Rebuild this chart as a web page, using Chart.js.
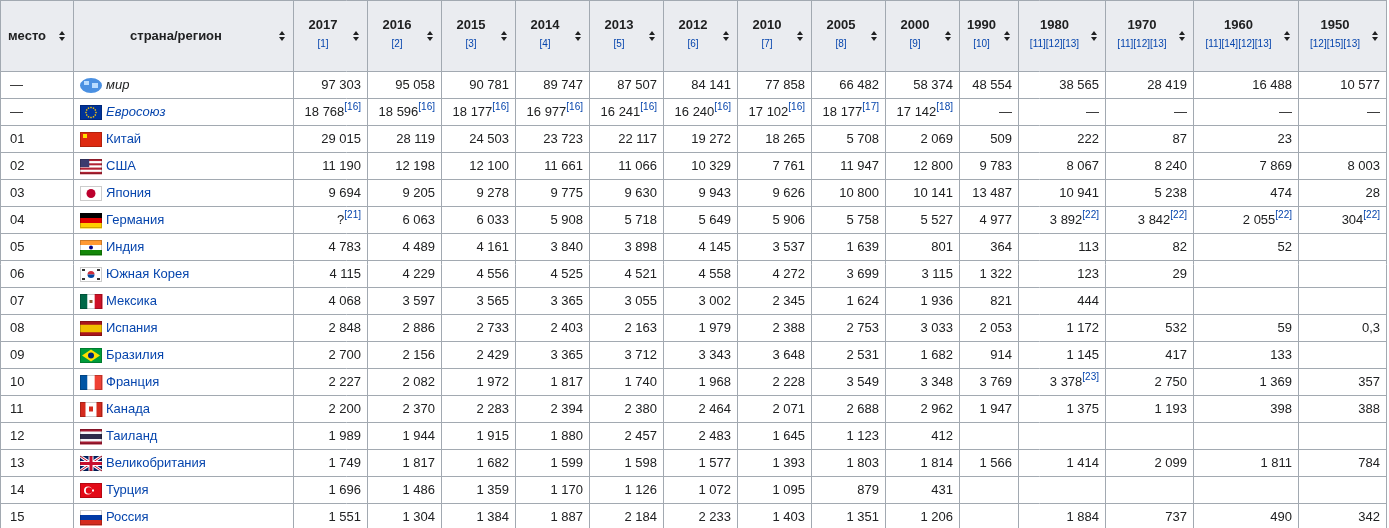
<!DOCTYPE html>
<html><head><meta charset="utf-8">
<script src="https://cdn.jsdelivr.net/npm/chart.js@4"></script>
<style>body{margin:0;background:#fff}</style>
</head><body>
<canvas id="c" width="1389" height="528"></canvas>
<script>
// column headers
const years = ['2017','2016','2015','2014','2013','2012','2010','2005','2000','1990','1980','1970','1960','1950'];
const refs = ['[1]','[2]','[3]','[4]','[5]','[6]','[7]','[8]','[9]','[10]','[11][12][13]','[11][12][13]','[11][14][12][13]','[12][15][13]'];
const places = ['—','—','01','02','03','04','05','06','07','08','09','10','11','12','13','14','15'];
const countries = ['мир','Евросоюз','Китай','США','Япония','Германия','Индия','Южная Корея','Мексика','Испания','Бразилия','Франция','Канада','Таиланд','Великобритания','Турция','Россия'];
const flags = ['world','eu','cn','us','jp','de','in','kr','mx','es','br','fr','ca','th','gb','tr','ru'];

// values per row, "[n]" = footnote
const world = ['97 303','95 058','90 781','89 747','87 507','84 141','77 858','66 482','58 374','48 554','38 565','28 419','16 488','10 577'];
const eu = ['18 768[16]','18 596[16]','18 177[16]','16 977[16]','16 241[16]','16 240[16]','17 102[16]','18 177[17]','17 142[18]','—','—','—','—','—'];
const china = ['29 015','28 119','24 503','23 723','22 117','19 272','18 265','5 708','2 069','509','222','87','23',''];
const usa = ['11 190','12 198','12 100','11 661','11 066','10 329','7 761','11 947','12 800','9 783','8 067','8 240','7 869','8 003'];
const japan = ['9 694','9 205','9 278','9 775','9 630','9 943','9 626','10 800','10 141','13 487','10 941','5 238','474','28'];
const germany = ['?[21]','6 063','6 033','5 908','5 718','5 649','5 906','5 758','5 527','4 977','3 892[22]','3 842[22]','2 055[22]','304[22]'];
const india = ['4 783','4 489','4 161','3 840','3 898','4 145','3 537','1 639','801','364','113','82','52',''];
const korea = ['4 115','4 229','4 556','4 525','4 521','4 558','4 272','3 699','3 115','1 322','123','29','',''];
const mexico = ['4 068','3 597','3 565','3 365','3 055','3 002','2 345','1 624','1 936','821','444','','',''];
const spain = ['2 848','2 886','2 733','2 403','2 163','1 979','2 388','2 753','3 033','2 053','1 172','532','59','0,3'];
const brazil = ['2 700','2 156','2 429','3 365','3 712','3 343','3 648','2 531','1 682','914','1 145','417','133',''];
const france = ['2 227','2 082','1 972','1 817','1 740','1 968','2 228','3 549','3 348','3 769','3 378[23]','2 750','1 369','357'];
const canada = ['2 200','2 370','2 283','2 394','2 380','2 464','2 071','2 688','2 962','1 947','1 375','1 193','398','388'];
const thailand = ['1 989','1 944','1 915','1 880','2 457','2 483','1 645','1 123','412','','','','',''];
const uk = ['1 749','1 817','1 682','1 599','1 598','1 577','1 393','1 803','1 814','1 566','1 414','2 099','1 811','784'];
const turkey = ['1 696','1 486','1 359','1 170','1 126','1 072','1 095','879','431','','','','',''];
const russia = ['1 551','1 304','1 384','1 887','2 184','2 233','1 403','1 351','1 206','','1 884','737','490','342'];
const rows = [world,eu,china,usa,japan,germany,india,korea,mexico,spain,brazil,france,canada,thailand,uk,turkey,russia];

// layout (table units, mapped through the chart's scales)
const colEdges = [0,73,293,367,441,515,589,663,737,811,885,959,1018,1105,1193,1298,1386];
const headH = 71, rowH = 27;

const FONT = '"Liberation Sans", Arial, sans-serif';
const BLUE = '#0645ad', TXT = '#202122', BORDER = '#a2a9b1';

function drawFlag(ctx, code, x, y, w, h) {
  const stripesH = (cols) => cols.forEach((c,i)=>{ctx.fillStyle=c;ctx.fillRect(x,y+i*h/cols.length,w,h/cols.length+0.5);});
  const stripesV = (cols) => cols.forEach((c,i)=>{ctx.fillStyle=c;ctx.fillRect(x+i*w/cols.length,y,w/cols.length+0.5,h);});
  ctx.save();
  switch (code) {
    case 'world':
      ctx.fillStyle='#4a90e2';ctx.beginPath();ctx.ellipse(x+w/2,y+h/2,w/2,h/2,0,0,Math.PI*2);ctx.fill();
      ctx.fillStyle='#b9dcff';ctx.fillRect(x+4,y+3,5,4);ctx.fillRect(x+12,y+5,6,5);ctx.restore();return;
    case 'eu': ctx.fillStyle='#039';ctx.fillRect(x,y,w,h);ctx.fillStyle='#fc0';
      for(let i=0;i<12;i++){const a=i*Math.PI/6;ctx.fillRect(x+w/2+Math.cos(a)*5-0.7,y+h/2+Math.sin(a)*5-0.7,1.4,1.4);} break;
    case 'cn': ctx.fillStyle='#de2910';ctx.fillRect(x,y,w,h);ctx.fillStyle='#ffde00';ctx.fillRect(x+3,y+2,4,4);break;
    case 'us': for(let i=0;i<7;i++){ctx.fillStyle=i%2?'#fff':'#b22234';ctx.fillRect(x,y+i*h/7,w,h/7+0.3);} ctx.fillStyle='#3c3b6e';ctx.fillRect(x,y,w*0.42,h*0.54);break;
    case 'jp': ctx.fillStyle='#fff';ctx.fillRect(x,y,w,h);ctx.fillStyle='#bc002d';ctx.beginPath();ctx.arc(x+w/2,y+h/2,h*0.3,0,7);ctx.fill();break;
    case 'de': stripesH(['#000','#dd0000','#ffce00']);break;
    case 'in': stripesH(['#ff9933','#fff','#138808']);ctx.fillStyle='#008';ctx.beginPath();ctx.arc(x+w/2,y+h/2,2,0,7);ctx.fill();break;
    case 'kr': ctx.fillStyle='#fff';ctx.fillRect(x,y,w,h);ctx.fillStyle='#cd2e3a';ctx.beginPath();ctx.arc(x+w/2,y+h/2,3.5,Math.PI,0);ctx.fill();
      ctx.fillStyle='#0047a0';ctx.beginPath();ctx.arc(x+w/2,y+h/2,3.5,0,Math.PI);ctx.fill();ctx.fillStyle='#333';
      [[2,2],[w-5,2],[2,h-4],[w-5,h-4]].forEach(p=>ctx.fillRect(x+p[0],y+p[1],3,2));break;
    case 'mx': stripesV(['#006847','#fff','#ce1126']);ctx.fillStyle='#8b5a2b';ctx.fillRect(x+w/2-1.5,y+h/2-1.5,3,3);break;
    case 'es': ctx.fillStyle='#aa151b';ctx.fillRect(x,y,w,h);ctx.fillStyle='#f1bf00';ctx.fillRect(x,y+h/4,w,h/2);break;
    case 'br': ctx.fillStyle='#009c3b';ctx.fillRect(x,y,w,h);ctx.fillStyle='#ffdf00';ctx.beginPath();ctx.moveTo(x+2,y+h/2);ctx.lineTo(x+w/2,y+1.5);ctx.lineTo(x+w-2,y+h/2);ctx.lineTo(x+w/2,y+h-1.5);ctx.fill();
      ctx.fillStyle='#002776';ctx.beginPath();ctx.arc(x+w/2,y+h/2,3,0,7);ctx.fill();break;
    case 'fr': stripesV(['#0055a4','#fff','#ef4135']);break;
    case 'ca': stripesV(['#d52b1e','#fff','#fff','#d52b1e']);ctx.fillStyle='#d52b1e';ctx.fillRect(x+w/2-2,y+h/2-3,4,5);break;
    case 'th': stripesH(['#a51931','#f4f5f8','#2d2a4a','#2d2a4a','#f4f5f8','#a51931']);break;
    case 'gb': ctx.fillStyle='#012169';ctx.fillRect(x,y,w,h);ctx.strokeStyle='#fff';ctx.lineWidth=3;ctx.beginPath();ctx.moveTo(x,y);ctx.lineTo(x+w,y+h);ctx.moveTo(x+w,y);ctx.lineTo(x,y+h);ctx.stroke();
      ctx.strokeStyle='#c8102e';ctx.lineWidth=1;ctx.stroke();ctx.fillStyle='#fff';ctx.fillRect(x,y+h/2-2.5,w,5);ctx.fillRect(x+w/2-2.5,y,5,h);
      ctx.fillStyle='#c8102e';ctx.fillRect(x,y+h/2-1.5,w,3);ctx.fillRect(x+w/2-1.5,y,3,h);break;
    case 'tr': ctx.fillStyle='#e30a17';ctx.fillRect(x,y,w,h);ctx.fillStyle='#fff';ctx.beginPath();ctx.arc(x+8,y+h/2,4,0,7);ctx.fill();
      ctx.fillStyle='#e30a17';ctx.beginPath();ctx.arc(x+9,y+h/2,3.2,0,7);ctx.fill();ctx.fillStyle='#fff';ctx.fillRect(x+12,y+h/2-1,2,2);break;
    case 'ru': stripesH(['#fff','#0039a6','#d52b1e']);break;
  }
  ctx.strokeStyle='rgba(0,0,0,0.2)';ctx.lineWidth=1;ctx.strokeRect(x+0.5,y+0.5,w-1,h-1);
  ctx.restore();
}

function sortArrows(ctx, cx, cy) {
  ctx.fillStyle = TXT;
  ctx.beginPath();ctx.moveTo(cx-3,cy-1);ctx.lineTo(cx+3,cy-1);ctx.lineTo(cx,cy-5);ctx.fill();
  ctx.beginPath();ctx.moveTo(cx-3,cy+1);ctx.lineTo(cx+3,cy+1);ctx.lineTo(cx,cy+5);ctx.fill();
}

// text with trailing "[n]" rendered as superscript, right aligned at xr
function valueText(ctx, s, xr, y) {
  const m = s.match(/^(.*?)(\[\d+\])?$/);
  const main = m[1], sup = m[2] || '';
  ctx.textAlign = 'right'; ctx.textBaseline = 'middle';
  let x = xr;
  if (sup) {
    ctx.font = '10px ' + FONT; ctx.fillStyle = BLUE;
    ctx.fillText(sup, x, y - 5); x -= ctx.measureText(sup).width;
  }
  ctx.font = '13px ' + FONT; ctx.fillStyle = TXT;
  ctx.fillText(main, x, y);
}

const tablePlugin = {
  id: 'table',
  afterDraw(chart) {
    const ctx = chart.ctx, sx = chart.scales.x, sy = chart.scales.y;
    const X = v => sx.getPixelForValue(v), Y = v => sy.getPixelForValue(v);
    const rowTop = i => headH + i * rowH;
    const bottom = rowTop(rows.length);
    ctx.save();
    // header background
    ctx.fillStyle = '#eaecf0';
    ctx.fillRect(X(colEdges[0]), Y(0), X(colEdges[colEdges.length-1]) - X(colEdges[0]), Y(headH) - Y(0));
    // grid
    ctx.strokeStyle = BORDER; ctx.lineWidth = 1;
    ctx.beginPath();
    colEdges.forEach(c => { const px = Math.round(X(c)) + 0.5; ctx.moveTo(px, Y(0)); ctx.lineTo(px, Y(bottom)); });
    for (let i = 0; i <= rows.length; i++) { const py = Math.round(Y(rowTop(i))) + 0.5; ctx.moveTo(X(0), py); ctx.lineTo(X(colEdges[colEdges.length-1]), py); }
    ctx.moveTo(X(0), 0.5); ctx.lineTo(X(colEdges[colEdges.length-1]), 0.5);
    ctx.stroke();
    // header text
    ctx.fillStyle = TXT; ctx.textBaseline = 'middle';
    ctx.font = 'bold 13px ' + FONT;
    ctx.textAlign = 'left'; ctx.fillText('место', X(8), Y(36));
    sortArrows(ctx, X(colEdges[1] - 11), Y(36));
    ctx.fillStyle = TXT; ctx.textAlign = 'center';
    ctx.fillText('страна/регион', X((colEdges[1] + colEdges[2] - 14) / 2), Y(36));
    sortArrows(ctx, X(colEdges[2] - 11), Y(36));
    years.forEach((yr, j) => {
      const l = colEdges[j+2], r = colEdges[j+3], cx = (l + r - 14) / 2;
      ctx.fillStyle = TXT; ctx.font = 'bold 13px ' + FONT; ctx.textAlign = 'center';
      ctx.fillText(yr, X(cx), Y(25));
      ctx.fillStyle = BLUE; ctx.font = '10px ' + FONT;
      ctx.fillText(refs[j], X(cx), Y(44));
      sortArrows(ctx, X(r - 11), Y(36));
    });
    // body
    rows.forEach((vals, i) => {
      const cy = Y(rowTop(i) + rowH / 2 + 1);
      ctx.font = '13px ' + FONT; ctx.fillStyle = TXT; ctx.textAlign = 'left';
      ctx.fillText(places[i], X(10), cy);
      drawFlag(ctx, flags[i], X(80), Y(rowTop(i) + 7), 22, 15);
      ctx.font = (i < 2 ? 'italic ' : '') + '13px ' + FONT;
      ctx.fillStyle = i === 0 ? TXT : BLUE;
      ctx.fillText(countries[i], X(106), cy);
      vals.forEach((v, j) => { if (v) valueText(ctx, v, X(colEdges[j+3] - 6), cy); });
    });
    ctx.restore();
  }
};

new Chart(document.getElementById('c'), {
  type: 'scatter',
  data: { datasets: [{ data: [] }] },
  options: {
    responsive: false, animation: false,
    layout: { padding: 0 },
    plugins: { legend: { display: false }, tooltip: { enabled: false } },
    scales: {
      x: { type: 'linear', min: 0, max: 1389, display: false },
      y: { type: 'linear', min: 0, max: 528, reverse: true, display: false }
    }
  },
  plugins: [tablePlugin]
});
</script>
</body></html>
